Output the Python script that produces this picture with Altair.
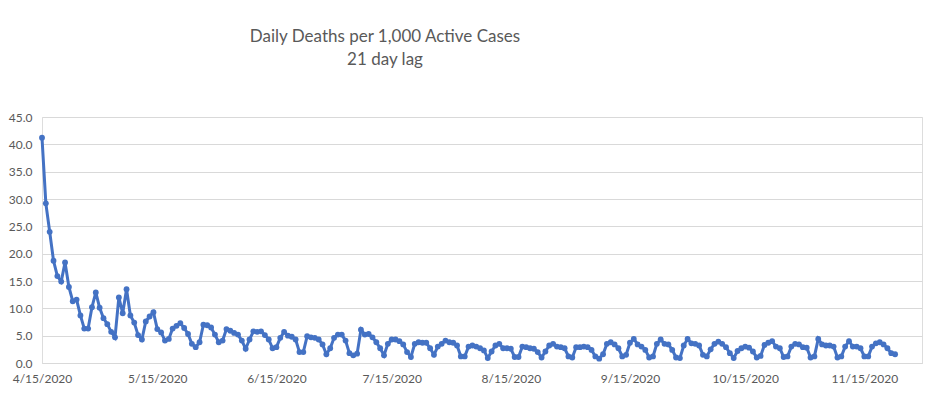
import altair as alt
import pandas as pd

start_date = "2020-04-15"

deaths_per_1000 = [
    41.2, 29.2, 24.0, 18.7, 15.9, 14.9, 18.4, 13.9, 11.3, 11.6,
    8.7, 6.3, 6.3, 10.2, 12.9, 10.1, 8.2, 7.1, 5.7, 4.7,
    12.0, 9.1, 13.5, 8.7, 7.4, 5.1, 4.3, 7.6, 8.5, 9.3,
    6.2, 5.6, 4.1, 4.4, 6.3, 6.8, 7.3, 6.4, 5.3, 3.5,
    2.9, 3.8, 7.0, 6.9, 6.5, 5.2, 3.8, 4.1, 6.2, 5.9,
    5.5, 5.2, 4.1, 2.6, 4.3, 5.8, 5.7, 5.8, 5.1, 4.3,
    2.7, 2.9, 4.6, 5.7, 5.0, 4.8, 4.3, 2.0, 2.0, 4.9,
    4.7, 4.6, 4.3, 3.4, 1.6, 2.7, 4.6, 5.2, 5.2, 4.1,
    1.8, 1.4, 1.7, 6.1, 5.2, 5.3, 4.7, 3.8, 2.7, 1.4,
    3.5, 4.3, 4.3, 4.0, 3.4, 2.0, 1.1, 3.5, 3.8, 3.7,
    3.7, 2.7, 1.5, 3.0, 3.5, 4.1, 3.8, 3.7, 3.2, 1.2,
    1.2, 3.0, 3.2, 3.0, 2.7, 2.3, 0.9, 2.1, 3.2, 3.5,
    2.7, 2.7, 2.6, 1.1, 1.1, 3.0, 2.9, 2.7, 2.6, 2.0,
    1.0, 2.1, 3.2, 3.5, 3.0, 2.9, 2.7, 1.2, 1.0, 2.9,
    2.9, 3.0, 2.9, 2.4, 1.2, 0.8, 1.6, 3.5, 3.8, 3.4,
    2.7, 1.2, 1.5, 3.7, 4.4, 3.4, 3.0, 2.4, 1.0, 1.2,
    3.5, 4.3, 3.5, 3.4, 2.4, 1.0, 0.9, 3.2, 4.4, 3.6,
    3.5, 3.2, 1.5, 1.2, 2.5, 3.5, 3.9, 3.5, 2.9, 1.8,
    0.9, 2.2, 2.7, 3.0, 2.8, 2.1, 1.0, 1.3, 3.3, 3.7,
    4.0, 3.0, 2.7, 1.1, 1.2, 3.0, 3.5, 3.4, 2.9, 2.8,
    1.0, 1.2, 4.4, 3.4, 3.2, 3.2, 3.0, 1.0, 1.2, 3.0,
    4.0, 3.0, 3.0, 2.7, 1.2, 1.2, 3.0, 3.6, 3.8, 3.4,
    2.7, 1.8, 1.6,
]

x_tick_dates = [(2020, m, 15) for m in range(4, 12)]
y_ticks = [0, 5, 10, 15, 20, 25, 30, 35, 40, 45]
title_lines = ["Daily Deaths per 1,000 Active Cases", "21 day lag"]

dates = pd.date_range(start_date, periods=len(deaths_per_1000), freq="D").strftime("%Y-%m-%d")
df = pd.DataFrame({"date": dates, "value": deaths_per_1000})

FONT = "Lato"
TEXT = "#595959"
GRID = "#D9D9D9"
BLUE = "#4472C4"

x_enc = alt.X(
    "date:T",
    scale=alt.Scale(
        type="utc",
        domain=[
            alt.DateTime(year=2020, month=4, date=15, utc=True),
            alt.DateTime(year=2020, month=11, date=30, utc=True),
        ],
        nice=False,
    ),
    axis=alt.Axis(
        title=None,
        values=[alt.DateTime(year=y, month=m, date=d, utc=True) for (y, m, d) in x_tick_dates],
        labelExpr="utcFormat(datum.value, '%-m/%-d/%Y')",
        grid=False,
        ticks=False,
        domain=True,
        domainColor=GRID,
        labelColor=TEXT,
        labelFont=FONT,
        labelFontSize=12,
        labelPadding=10,
        labelAngle=0,
        labelOverlap=False,
        labelFlush=False,
    ),
)

y_enc = alt.Y(
    "value:Q",
    scale=alt.Scale(domain=[0, 45], nice=False),
    axis=alt.Axis(
        title=None,
        values=y_ticks,
        format=".1f",
        grid=True,
        gridColor=GRID,
        gridWidth=1,
        ticks=False,
        domain=False,
        labelColor=TEXT,
        labelFont=FONT,
        labelFontSize=12,
        labelPadding=10,
    ),
)

base = alt.Chart(df).encode(x=x_enc, y=y_enc)
line = base.mark_line(color=BLUE, strokeWidth=3)
pts = base.mark_point(color=BLUE, filled=True, size=34, opacity=1)

chart = (
    alt.layer(line, pts)
    .properties(
        width=880,
        height=246,
        padding={"left": 34, "top": 109, "right": 8, "bottom": 22},
        autosize=alt.AutoSizeParams(type="none"),
        title=alt.TitleParams(
            text=title_lines,
            anchor="middle",
            dx=-97,
            font=FONT,
            fontSize=17,
            fontWeight="normal",
            color=TEXT,
            lineHeight=23,
            offset=42,
        ),
    )
    .configure_view(stroke=None)
    .configure(background="white")
)

chart.save("out.html", embed_options={"renderer": "svg", "actions": False})
